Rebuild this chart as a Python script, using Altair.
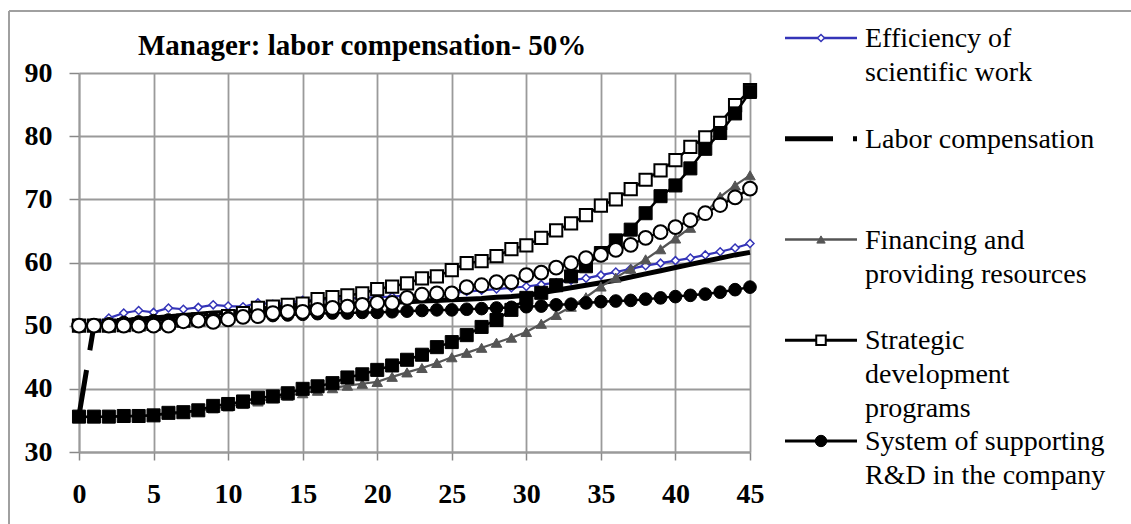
import altair as alt
import pandas as pd

# ---------------- data ----------------
x_vals = list(range(46))

efficiency = [50.0, 50.4, 51.2, 52.0, 52.4, 52.1, 52.8, 52.6, 52.9, 53.3,
              53.1, 53.0, 53.6, 53.4, 53.6, 54.0, 54.1, 54.2, 54.3, 54.4,
              54.5, 54.6, 54.8, 54.9, 55.0, 55.2, 55.4, 55.6, 55.8, 56.0,
              56.2, 56.5, 56.8, 57.2, 57.5, 58.0, 58.5, 59.0, 59.5, 59.9,
              60.3, 60.7, 61.2, 61.7, 62.3, 63.0]

labor = [35.8, 50.0, 50.5, 50.8, 51.0, 51.2, 51.4, 51.6, 51.8, 52.0,
         52.1, 52.3, 52.4, 52.6, 52.8, 52.9, 53.0, 53.2, 53.3, 53.5,
         53.6, 53.7, 53.8, 53.9, 54.0, 54.1, 54.2, 54.3, 54.5, 54.6,
         54.8, 55.2, 55.6, 56.0, 56.4, 56.8, 57.2, 57.7, 58.2, 58.7,
         59.2, 59.7, 60.2, 60.7, 61.2, 61.6]

financing = [35.5, 35.5, 35.6, 35.6, 35.7, 35.8, 36.0, 36.2, 36.5, 36.9,
             37.2, 37.6, 38.0, 38.5, 38.9, 39.3, 39.7, 40.1, 40.5, 40.8,
             41.1, 41.9, 42.6, 43.3, 44.1, 45.0, 45.7, 46.5, 47.3, 48.1,
             49.0, 50.3, 51.7, 53.0, 54.5, 56.2, 57.6, 59.0, 60.5, 62.1,
             63.8, 65.5, 67.8, 70.4, 72.2, 73.8]

strategic = [50.0, 50.0, 50.0, 50.1, 50.2, 50.3, 50.5, 50.8, 51.0, 51.2,
             51.5, 52.0, 52.8, 53.0, 53.3, 53.5, 54.2, 54.5, 54.8, 55.1,
             55.8, 56.2, 56.7, 57.5, 57.8, 58.8, 59.9, 60.2, 61.0, 62.1,
             62.7, 63.9, 65.1, 66.2, 67.5, 69.0, 70.0, 71.6, 73.1, 74.6,
             76.2, 78.3, 79.8, 82.1, 84.9, 87.3]

system_rd = [50.0, 50.1, 50.3, 50.5, 50.6, 50.8, 50.9, 51.0, 51.1, 51.2,
             51.3, 51.4, 51.5, 51.6, 51.7, 51.8, 51.9, 52.0, 52.0, 52.1,
             52.1, 52.2, 52.3, 52.4, 52.5, 52.5, 52.6, 52.7, 52.8, 52.9,
             53.0, 53.1, 53.3, 53.4, 53.6, 53.8, 53.9, 54.0, 54.2, 54.4,
             54.6, 54.8, 55.0, 55.3, 55.7, 56.1]

# extra series drawn in the plot without a visible legend entry
filled_squares = [35.6, 35.6, 35.6, 35.7, 35.7, 35.8, 36.2, 36.3, 36.6, 37.3,
                  37.6, 38.0, 38.6, 38.8, 39.3, 40.0, 40.4, 40.9, 41.8, 42.3,
                  43.0, 43.7, 44.6, 45.4, 46.6, 47.4, 48.5, 49.8, 50.9, 52.5,
                  54.4, 55.2, 56.4, 57.8, 59.4, 61.5, 63.5, 65.2, 67.8, 70.5,
                  72.2, 74.9, 78.0, 80.5, 83.6, 87.0]

open_circles = [50.0, 50.0, 50.0, 50.0, 50.0, 50.0, 50.0, 50.7, 50.8, 50.6,
                51.0, 51.4, 51.5, 52.0, 52.2, 52.2, 52.5, 52.8, 53.0, 53.3,
                53.6, 53.6, 54.4, 54.9, 55.1, 55.1, 56.1, 56.4, 56.9, 56.9,
                58.0, 58.4, 59.2, 59.9, 60.7, 61.2, 62.0, 62.8, 63.9, 64.8,
                65.6, 66.7, 67.8, 69.1, 70.3, 71.7]

legend_names = ["Efficiency of scientific work", "Labor compensation",
                "Financing and providing resources", "Strategic development programs",
                "System of supporting R&D in the company"]
legend_labels = ["Efficiency of\nscientific work", "Labor compensation",
                 "Financing and\nproviding resources", "Strategic\ndevelopment\nprograms",
                 "System of supporting\nR&D in the company"]
title_text = "Manager: labor compensation- 50%"
x_ticks = [0, 5, 10, 15, 20, 25, 30, 35, 40, 45]
y_ticks = [30, 40, 50, 60, 70, 80, 90]

# ---------------- styling ----------------
SERIF = "Liberation Serif"
GRID = "#9a9a9a"
BLUE = "#3434b8"
GRAY = "#555555"

X = alt.X("x:Q", title=None,
          scale=alt.Scale(domain=[0, 45], nice=False, zero=False),
          axis=alt.Axis(values=x_ticks, grid=True, gridColor=GRID, gridWidth=1.8,
                        domainColor=GRID, domainWidth=1.8, tickColor="#888888",
                        tickSize=8, tickWidth=1.5, labelFont=SERIF, labelFontSize=28,
                        labelFontWeight="bold", labelColor="black", labelPadding=20,
                        labelFlush=False, labelOverlap=False, labelBound=False))
Y = alt.Y("v:Q", title=None,
          scale=alt.Scale(domain=[30, 90], nice=False, zero=False),
          axis=alt.Axis(values=y_ticks, grid=True, gridColor=GRID, gridWidth=1.8,
                        domainColor=GRID, domainWidth=1.8, tickColor="#888888",
                        tickSize=10, tickWidth=1.5, labelFont=SERIF, labelFontSize=28,
                        labelFontWeight="bold", labelColor="black", labelPadding=17,
                        labelFlush=False, labelOverlap=False, labelBound=False))


def series(values, xs, line_color, line_width, dash=None, shape=None, size=None,
           fill=None, stroke=None, stroke_width=None):
    df = pd.DataFrame({"x": xs, "v": values})
    base = alt.Chart(df).encode(x=X, y=Y)
    kw = dict(color=line_color, strokeWidth=line_width)
    if dash:
        kw["strokeDash"] = dash
    out = [base.mark_line(**kw)]
    if shape:
        out.append(base.mark_point(shape=shape, size=size, filled=True, fill=fill,
                                   stroke=stroke, strokeWidth=stroke_width, opacity=1))
    return out


main_layers = []
main_layers += series(efficiency, x_vals, BLUE, 2.2, shape="diamond", size=64,
                      fill="white", stroke=BLUE, stroke_width=1.5)
main_layers += series(labor[:2], x_vals[:2], "black", 5, dash=[46, 20])
main_layers += series(labor[1:], x_vals[1:], "black", 5)
main_layers += series(financing, x_vals, GRAY, 2.2, shape="triangle-up", size=110,
                      fill=GRAY, stroke=GRAY, stroke_width=1)
main_layers += series(strategic, x_vals, "black", 2.5, shape="square", size=150,
                      fill="white", stroke="black", stroke_width=2)
main_layers += series(system_rd, x_vals, "black", 2.5, shape="circle", size=160,
                      fill="black", stroke="black", stroke_width=1)
main_layers += series(filled_squares, x_vals, "black", 2.5, shape="square", size=170,
                      fill="black", stroke="black", stroke_width=1)
main_layers += series(open_circles, x_vals, "black", 2.5, shape="circle", size=190,
                      fill="white", stroke="black", stroke_width=2)

main = alt.layer(*main_layers)

# ---------------- legend ----------------
LY = alt.Y("series:N", title=None, axis=None,
           scale=alt.Scale(type="point", domain=legend_names, range=[-35, 368], padding=0))


def legend_entry(name, line_color, line_width, dash=None, shape=None, size=None,
                 fill=None, stroke=None, stroke_width=None):
    df = pd.DataFrame({"series": [name]})
    base = alt.Chart(df)
    kw = dict(color=line_color, strokeWidth=line_width)
    if dash:
        kw["strokeDash"] = dash
    out = [base.mark_rule(**kw).encode(x=alt.value(706), x2=alt.value(778), y=LY)]
    if shape:
        out.append(base.mark_point(shape=shape, size=size, filled=True, fill=fill,
                                   stroke=stroke, strokeWidth=stroke_width, opacity=1)
                   .encode(x=alt.value(742), y=LY))
    return out


leg_layers = []
leg_layers += legend_entry(legend_names[0], BLUE, 2.5, shape="diamond", size=50,
                           fill="white", stroke=BLUE, stroke_width=1.5)
leg_layers += legend_entry(legend_names[1], "black", 5, dash=[48, 20])
leg_layers += legend_entry(legend_names[2], GRAY, 2.5, shape="triangle-up", size=70,
                           fill=GRAY, stroke=GRAY, stroke_width=1)
leg_layers += legend_entry(legend_names[3], "black", 3, shape="square", size=90,
                           fill="white", stroke="black", stroke_width=2)
leg_layers += legend_entry(legend_names[4], "black", 3, shape="circle", size=130,
                           fill="black", stroke="black", stroke_width=1)

legend_df = pd.DataFrame({"series": legend_names, "label": legend_labels})
leg_layers.append(
    alt.Chart(legend_df).mark_text(align="left", baseline="top", dy=-13, font=SERIF,
                                   fontSize=28, lineBreak="\n", lineHeight=34,
                                   color="black")
    .encode(x=alt.value(786), y=LY, text="label:N")
)
legend = alt.layer(*leg_layers)

# ---------------- title and outer frame ----------------
title_df = pd.DataFrame({"t": [title_text]})
title = alt.Chart(title_df).mark_text(align="left", baseline="alphabetic", font=SERIF,
                                      fontSize=29, fontWeight="bold", color="black").encode(
    x=alt.value(59), y=alt.value(-18), text="t:N")

frame_df = pd.DataFrame({"k": [0]})
frame_left = alt.Chart(frame_df).mark_rule(color="#a0a0a0", strokeWidth=2).encode(
    x=alt.value(-70), y=alt.value(-62), y2=alt.value(452))
frame_top = alt.Chart(frame_df).mark_rule(color="#a0a0a0", strokeWidth=2).encode(
    x=alt.value(-70), x2=alt.value(1052), y=alt.value(-62))

chart = alt.layer(main, legend, title, frame_left, frame_top).resolve_scale(
    y="independent"
).properties(
    width=671, height=379,
    autosize=alt.AutoSizeParams(type="none"),
    padding={"left": 79, "top": 73, "right": 381, "bottom": 72},
    background="white",
).configure_view(stroke=None)

chart.save("out.html", embed_options={"renderer": "svg", "actions": False})
